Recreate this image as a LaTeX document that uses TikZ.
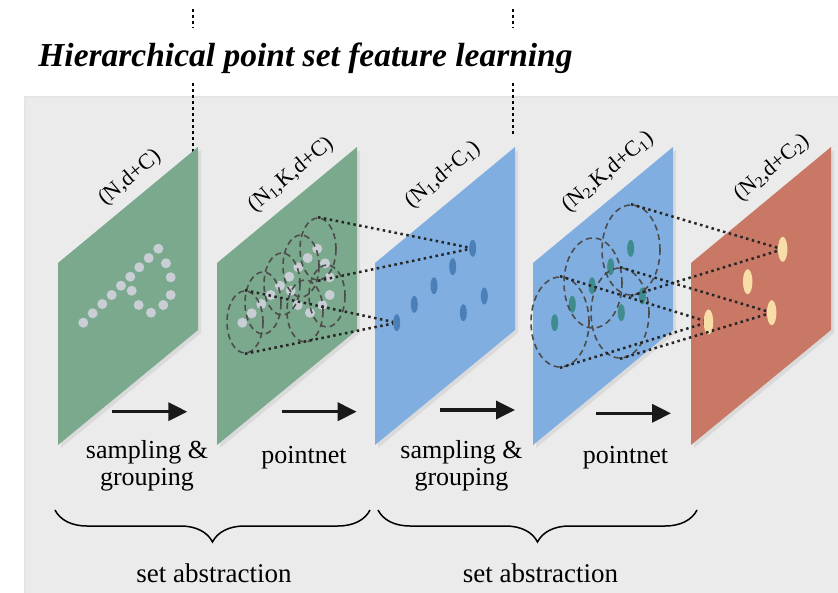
\documentclass[tikz,border=0pt]{standalone}
\usepackage{fontspec}
\setmainfont{Liberation Serif}
\usetikzlibrary{arrows.meta,shapes.geometric,decorations.pathreplacing}
\definecolor{bgray}{HTML}{EBEBEB}
\definecolor{pgreen}{HTML}{7BA98D}
\definecolor{pblue}{HTML}{80AEE0}
\definecolor{pred}{HTML}{C97866}
\definecolor{dotgray}{HTML}{C9CED5}
\definecolor{ptblue}{HTML}{4A7FB8}
\definecolor{ptteal}{HTML}{3E8C8E}
\definecolor{ptyellow}{HTML}{F8DDA8}
\begin{document}
\begin{tikzpicture}[x=1pt,y=-1pt,
 lbl/.style={font=\fontsize{22}{24}\selectfont, rotate=40, inner sep=0pt},
 txt/.style={font=\fontsize{26}{27}\selectfont, align=center, inner sep=0pt},
 cone/.style={line width=2.5pt, dash pattern=on 2.5pt off 3.5pt, black!85},
 ring/.style={ellipse, draw=black!70, line width=1.6pt, dash pattern=on 6pt off 4pt, inner sep=0pt, minimum width=36pt, minimum height=62pt},
 bigring/.style={ring, minimum width=58pt, minimum height=90pt},
 gdot/.style={circle, fill=dotgray, inner sep=0pt, minimum size=10pt},
 bdot/.style={ellipse, fill=ptblue, inner sep=0pt, minimum width=7pt, minimum height=17pt},
 tdot/.style={ellipse, fill=ptteal, inner sep=0pt, minimum width=7pt, minimum height=17pt},
 ydot/.style={ellipse, fill=ptyellow, inner sep=0pt, minimum width=9.5pt, minimum height=25pt},
 flow/.style={line width=3.5pt, black!90, -{Triangle[length=19pt,width=18pt]}},
 vdots/.style={line width=2.5pt, dash pattern=on 3pt off 3pt},
 brc/.style={decorate, decoration={brace, amplitude=32pt}, line width=1.5pt}
]
\useasboundingbox (0,0) rectangle (838,593);
\fill[white] (0,0) rectangle (838,593);
% background
\fill[bgray] (25,97) rectangle (838,593);
\draw[black!10, line width=1.5pt] (25,593) -- (25,97) -- (838,97);
% vertical dotted lines
\coordinate (v1a) at (193,9); \coordinate (v1b) at (193,28);
\coordinate (v1c) at (193,83); \coordinate (v1d) at (193,153);
\coordinate (v2a) at (513,9); \coordinate (v2b) at (513,28);
\coordinate (v2c) at (513,83); \coordinate (v2d) at (513,135);
\draw[vdots] (v1a) -- (v1b); \draw[vdots] (v1c) -- (v1d);
\draw[vdots] (v2a) -- (v2b); \draw[vdots] (v2c) -- (v2d);
% title
\node[font=\fontsize{33.5}{36}\selectfont\bfseries\itshape, anchor=base, inner sep=0pt] (title) at (305.5,67) {Hierarchical point set feature learning};
% panels
\foreach \L/\c in {58/pgreen,217/pgreen,375/pblue,533/pblue,691/pred}{
  \fill[black, opacity=0.07] (\L+3,266) -- (\L+143,150) -- (\L+143,333) -- (\L+3,448) -- cycle;
  \fill[\c] (\L,263) -- (\L+140,147) -- (\L+140,330) -- (\L,445) -- cycle;
}
% labels
\node[lbl] (l1) at (130,178) {(N,d+C)};
\node[lbl] (l2) at (291,175) {(N\textsubscript{1},K,d+C)};
\node[lbl] (l3) at (443,175) {(N\textsubscript{1},d+C\textsubscript{1})};
\node[lbl] (l4) at (608,172) {(N\textsubscript{2},K,d+C\textsubscript{1})};
\node[lbl] (l5) at (772,168) {(N\textsubscript{2},d+C\textsubscript{2})};
% gray points in panels 1 and 2
\foreach \x/\y [count=\i] in {83.3/322.7,92.7/313.3,102.3/304,111.7/295,121/285.7,130.3/276.7,139.3/267.3,148.7/258,158.3/248.7,166/263.3,170.7/277.3,170.7/295,163.3/305,151/312.7,138.7/305,131.7/290.7}{
  \node[gdot] (ga\i) at (\x,\y) {};
  \node[gdot] (gb\i) at ({\x+159},\y) {};
}
% panel 3 and 4 points
\foreach \x/\y [count=\i] in {472.7/248.3,452.7/266.7,434/285.7,414.3/304.3,396.7/322.7,484.3/296,463.3/312.7}{
  \node[bdot] (b\i) at (\x,\y) {};
  \node[tdot] (t\i) at ({\x+158},\y) {};
}
% panel 5 points
\node[ydot] (y1) at (782.7,249.3) {};
\node[ydot] (y2) at (747.7,281.7) {};
\node[ydot] (y3) at (771.7,312.7) {};
\node[ydot] (y4) at (708.5,322) {};
% rings panel 2
\node[ring] (r1) at (245,322) {};
\node[ring] (r2) at (263,303) {};
\node[ring] (r3) at (282,284) {};
\node[ring] (r4) at (301,266) {};
\node[ring] (r5) at (318,249) {};
\node[ring] (r6) at (327,296) {};
\node[ring] (r7) at (305,311) {};
% rings panel 4
\node[bigring] (ra) at (631,250) {};
\node[bigring] (rb) at (593,283) {};
\node[bigring] (rc) at (560,322) {};
\node[bigring] (rd) at (620,313) {};
% cones
\draw[cone] (r1.north) -- (b5); \draw[cone] (r1.south) -- (b5);
\draw[cone] (r5.north) -- (b1); \draw[cone] (r5.south) -- (b1);
\draw[cone] (ra.north) -- (y1); \draw[cone] (ra.south) -- (y1);
\draw[cone] (rd.north) -- (y3); \draw[cone] (rd.south) -- (y3);
\draw[cone] (rc.north) -- (y4); \draw[cone] (rc.south) -- (y4);
% arrows
\coordinate (a1s) at (111.7,411.7); \coordinate (a1e) at (187.3,411.7);
\coordinate (a2s) at (281.7,411.7); \coordinate (a2e) at (356.7,411.7);
\coordinate (a3s) at (440,410); \coordinate (a3e) at (515,410);
\coordinate (a4s) at (596,413.3); \coordinate (a4e) at (671,413.3);
\draw[flow] (a1s) -- (a1e);
\draw[flow] (a2s) -- (a2e);
\draw[flow] (a3s) -- (a3e);
\draw[flow] (a4s) -- (a4e);
% step texts
\node[txt] (sg1) at (147,466) {sampling \&\\grouping};
\node[txt, anchor=base] (pn1) at (304,463) {pointnet};
\node[txt] (sg2) at (461.5,466) {sampling \&\\grouping};
\node[txt, anchor=base] (pn2) at (625.5,463) {pointnet};
% braces
\coordinate (br1a) at (370,510); \coordinate (br1b) at (55,510);
\coordinate (br2a) at (697,510); \coordinate (br2b) at (378,510);
\draw[brc] (br1a) -- (br1b);
\draw[brc] (br2a) -- (br2b);
\node[font=\fontsize{27}{29}\selectfont, anchor=base, inner sep=0pt] (sa1) at (214,582) {set abstraction};
\node[font=\fontsize{27}{29}\selectfont, anchor=base, inner sep=0pt] (sa2) at (540.5,582) {set abstraction};
\end{tikzpicture}
\end{document}
